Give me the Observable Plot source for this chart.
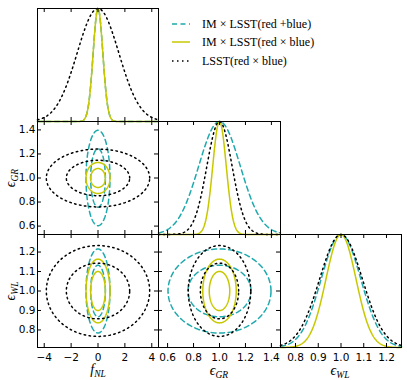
<!DOCTYPE html>
<html><head><meta charset="utf-8">
<script src="https://cdn.jsdelivr.net/npm/d3@7"></script>
<script src="https://cdn.jsdelivr.net/npm/@observablehq/plot@0.6"></script>
<style>
body{margin:0;background:#fff;}
#chart{position:relative;width:407px;height:380px;overflow:hidden;font-family:"DejaVu Sans",sans-serif;}
#chart > svg{position:absolute;}
.lab{position:absolute;font-family:"Liberation Serif","DejaVu Serif",serif;font-style:italic;font-size:14px;white-space:nowrap;line-height:14px;}
.lab sub{font-size:9.5px;vertical-align:-3px;line-height:0;}
.leg{position:absolute;left:172px;font-family:"Liberation Serif",serif;font-size:12px;white-space:nowrap;line-height:14px;display:flex;align-items:center;}
.leg svg{position:static;margin-right:12px;}
</style></head>
<body><div id="chart"></div>
<script>
// ---- data ----
const paramNames = ["fNL", "epsGR", "epsWL"];
const seriesNames = ["IM × LSST(red +blue)", "IM × LSST(red × blue)", "LSST(red × blue)"];
const seriesColors = ["#1ea9ad", "#c8c800", "#000000"];
const seriesDash = ["5,3.5", null, "1.5,3.5"];
const fiducial = [0, 1, 1];
const sigmaImRedPlusBlue = [0.36, 0.16, 0.087];
const sigmaImRedTimesBlue = [0.36, 0.052, 0.066];
const sigmaLsst = [1.55, 0.097, 0.094];
const contourRadii = [1.52, 2.48];
const xDomains = [[-4.5, 4.5], [0.53, 1.47], [0.734, 1.266]];
const yDomains = [[0.53, 1.47], [0.71, 1.29]];   // rows 2 and 3 (epsGR, epsWL)
const pdfDomain = [0, 1];
const fnlTicks = [-4, -2, 0, 2, 4];
const grTicks = [0.6, 0.8, 1.0, 1.2, 1.4];
const wlTicks = [0.8, 0.9, 1.0, 1.1, 1.2];

const sigmas = [sigmaImRedPlusBlue, sigmaImRedTimesBlue, sigmaLsst];
const ticks = [fnlTicks, grTicks, wlTicks];
const fmts = [d3.format("d"), d3.format(".1f"), d3.format(".1f")];

// layout
const colX = [37, 158, 280], colW = [121, 122, 121];
const rowY = [8, 121, 234], rowH = 113;
const ML = 40, MR = 4, MT = 4, MB = 36;

function gaussCurve(s, p) {
  const [a, b] = xDomains[p];
  const pts = [];
  const n = 240;
  for (let k = 0; k <= n; k++) {
    const x = a + (b - a) * k / n;
    pts.push({x, y: Math.exp(-0.5 * ((x - fiducial[p]) / sigmas[s][p]) ** 2)});
  }
  return pts;
}
function ellipse(s, px, py) {
  const pts = [];
  contourRadii.forEach((r, li) => {
    for (let k = 0; k <= 160; k++) {
      const t = 2 * Math.PI * k / 160;
      pts.push({level: li, x: fiducial[px] + r * sigmas[s][px] * Math.cos(t), y: fiducial[py] + r * sigmas[s][py] * Math.sin(t)});
    }
  });
  return pts;
}

const chart = document.getElementById("chart");
for (let r = 0; r < 3; r++) {
  for (let c = 0; c <= r; c++) {
    const W = colW[c], H = rowH;
    const diag = r === c;
    const marks = [];
    seriesNames.forEach((name, s) => {
      const data = diag ? gaussCurve(s, c) : ellipse(s, c, r);
      marks.push(Plot.line(data, {x: "x", y: "y", z: diag ? null : "level", stroke: seriesColors[s], strokeWidth: 1.5, strokeDasharray: seriesDash[s] || undefined}));
    });
    marks.push(Plot.tickX(ticks[c], {x: d => d, insetTop: H - 4, stroke: "black"}));
    marks.push(Plot.tickX(ticks[c], {x: d => d, insetBottom: H - 4, stroke: "black"}));
    if (!diag) {
      marks.push(Plot.tickY(ticks[r], {y: d => d, insetRight: W - 4, stroke: "black"}));
      marks.push(Plot.tickY(ticks[r], {y: d => d, insetLeft: W - 4, stroke: "black"}));
    }
    marks.push(Plot.frame({stroke: "black"}));
    const svg = Plot.plot({
      width: W + ML + MR, height: H + MT + MB,
      marginLeft: ML, marginRight: MR, marginTop: MT, marginBottom: MB,
      style: {background: "transparent", overflow: "visible", color: "black", fontSize: "10.5px", fontFamily: "DejaVu Sans, sans-serif", left: (colX[c] - ML) + "px", top: (rowY[r] - MT) + "px"},
      x: {domain: xDomains[c], label: null, axis: r === 2 ? "bottom" : null, ticks: ticks[c], tickSize: 0, tickPadding: 6, tickFormat: fmts[c]},
      y: diag
        ? {domain: pdfDomain, label: null, axis: null}
        : {domain: yDomains[r - 1], label: null, axis: c === 0 ? "left" : null, ticks: ticks[r], tickSize: 0, tickPadding: 2, tickFormat: fmts[r]},
      marks
    });
    chart.appendChild(svg);
  }
}

// axis labels
function addLabel(html, x, y, rot) {
  const d = document.createElement("div");
  d.className = "lab";
  d.innerHTML = html;
  d.style.left = x + "px";
  d.style.top = y + "px";
  d.style.transform = "translate(-50%,-50%)" + (rot ? " rotate(-90deg)" : "");
  chart.appendChild(d);
}
addLabel("f<sub>NL</sub>", 98, 370, false);
addLabel("ϵ<sub>GR</sub>", 219, 371, false);
addLabel("ϵ<sub>WL</sub>", 340, 371, false);
addLabel("ϵ<sub>GR</sub>", 11, 178, true);
addLabel("ϵ<sub>WL</sub>", 11, 291, true);

// legend
const legY = [24, 42.3, 61];
seriesNames.forEach((name, s) => {
  const d = document.createElement("div");
  d.className = "leg";
  d.style.top = (legY[s] - 7) + "px";
  d.innerHTML = `<svg width="18" height="6"><line x1="0" x2="18" y1="3" y2="3" stroke="${seriesColors[s]}" stroke-width="1.5" ${seriesDash[s] ? `stroke-dasharray="${seriesDash[s]}"` : ""}></line></svg><span>${name}</span>`;
  chart.appendChild(d);
});
</script>
</body></html>
